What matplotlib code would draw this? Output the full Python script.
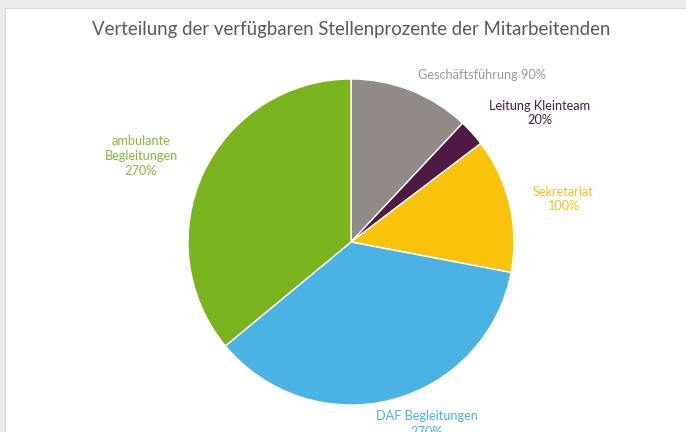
import matplotlib.pyplot as plt
from matplotlib.patches import Rectangle

# data
labels = ["Geschäftsführung", "Leitung Kleinteam", "Sekretariat", "DAF Begleitungen", "ambulante\nBegleitungen"]
values = [90, 20, 100, 270, 270]
colors = ["#918a86", "#4e1a45", "#f9c20b", "#4ab3e3", "#7ab31e"]
label_colors = ["#9e9894", "#4e1a45", "#f5c31c", "#4ab3e3", "#86bd35"]
title = "Verteilung der verfügbaren Stellenprozente der Mitarbeitenden"

W, H = 686, 432
fig = plt.figure(figsize=(W / 100, H / 100), dpi=100)
fig.patch.set_facecolor("#ececec")

ax = fig.add_axes([0, 0, 1, 1])

# chart area (white panel with thin border, slightly cropped at top/left)
ax.add_patch(Rectangle((5, -5), W + 10, H - 8 + 5, facecolor="white",
                       edgecolor="#d6d6d6", linewidth=0.8, zorder=0))

plt.rcParams['font.family'] = ['Lato', 'DejaVu Sans']

cx, cy, r = 351, H - 242, 163
ax.pie(values, colors=colors, startangle=90, counterclock=False,
       center=(cx, cy), radius=r,
       wedgeprops=dict(edgecolor="white", linewidth=1.0), frame=True)
ax.set_xlim(0, W)
ax.set_ylim(0, H)
ax.set_aspect("equal")
ax.axis("off")

ax.text(351, H - 30, title, ha="center", va="center", fontsize=13.4,
        color="#595959", family=['Lato', 'DejaVu Sans'])

# data labels (name + value)
label_pos = [(482, H - 75), (540, H - 113), (563, H - 199), (427, H - 424), (141, H - 156)]
for name, v, c, (x, y) in zip(labels, values, label_colors, label_pos):
    if name == "Geschäftsführung":
        txt = f"{name} {v}%"
    else:
        txt = f"{name}\n{v}%"
    ax.text(x, y, txt, ha="center", va="center", fontsize=9.2, color=c,
            linespacing=1.3, family=['Lato', 'DejaVu Sans'])

fig.savefig("out.png", dpi=100, facecolor=fig.get_facecolor())
